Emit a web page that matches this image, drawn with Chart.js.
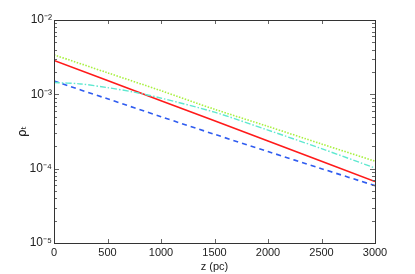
<!DOCTYPE html>
<html>
<head>
<meta charset="utf-8">
<script src="https://cdn.jsdelivr.net/npm/chart.js@4.4.0/dist/chart.umd.min.js"></script>
<style>
  html, body { margin: 0; padding: 0; background: #fff; }
  #wrap { width: 415px; height: 274px; }
</style>
</head>
<body>
<div id="wrap"><canvas id="rhoChart" width="415" height="274"></canvas></div>
<script>
const zSteps = [0, 500, 1000, 1500, 2000, 2500, 3000];
const redVals = [2.86e-3, 1.53e-3, 8.2e-4, 4.4e-4, 2.35e-4, 1.26e-4, 6.7e-5];
const greenVals = [3.4e-3, 1.95e-3, 1.12e-3, 6.3e-4, 3.7e-4, 2.15e-4, 1.26e-4];
const blueVals = [1.51e-3, 8.7e-4, 5.0e-4, 2.9e-4, 1.7e-4, 1.0e-4, 5.9e-5];
const cyanZ = [0, 250, 500, 750, 1000, 1500, 2000, 2500, 3000];
const cyanVals = [1.44e-3, 1.38e-3, 1.23e-3, 1.07e-3, 8.9e-4, 5.75e-4, 3.3e-4, 1.86e-4, 1.02e-4];
const xTicks = [0, 500, 1000, 1500, 2000, 2500, 3000];
const yTicks = [1e-5, 1e-4, 1e-3, 1e-2];
const yTickLabels = ['10⁻⁵', '10⁻⁴', '10⁻³', '10⁻²'];

const pts = (xs, ys) => xs.map((x, i) => ({ x: x, y: ys[i] }));
const ctx = document.getElementById('rhoChart').getContext('2d');

// frame + inward ticks like the matlab box
const framePlugin = {
  id: 'frame',
  afterDraw(chart) {
    const { ctx, chartArea: a, scales } = chart;
    const xs = scales.x, ys = scales.y;
    ctx.save();
    ctx.strokeStyle = '#666';
    ctx.lineWidth = 1;
    ctx.beginPath();
    xTicks.forEach(v => {
      const px = Math.round(xs.getPixelForValue(v)) + 0.5;
      ctx.moveTo(px, a.bottom); ctx.lineTo(px, a.bottom - 4);
      ctx.moveTo(px, a.top); ctx.lineTo(px, a.top + 4);
    });
    for (let d = -5; d < -2; d++) {
      for (let m = 1; m <= 9; m++) {
        const v = m * Math.pow(10, d);
        const py = Math.round(ys.getPixelForValue(v)) + 0.5;
        const len = m === 1 ? 5 : 3;
        ctx.moveTo(a.left, py); ctx.lineTo(a.left + len, py);
        ctx.moveTo(a.right, py); ctx.lineTo(a.right - len, py);
      }
    }
    ctx.stroke();
    ctx.strokeStyle = '#333';
    ctx.strokeRect(Math.round(a.left) + 0.5, Math.round(a.top) + 0.5,
      Math.round(a.right - a.left), Math.round(a.bottom - a.top));
    ctx.restore();
  }
};

new Chart(ctx, {
  type: 'line',
  data: {
    datasets: [
      {
        label: 'green',
        data: pts(zSteps, greenVals),
        borderColor: '#a8f040',
        borderWidth: 1.6,
        borderDash: [1.5, 1.5],
        pointRadius: 0,
        tension: 0.3
      },
      {
        label: 'cyan',
        data: pts(cyanZ, cyanVals),
        borderColor: '#5fe8d0',
        borderWidth: 1.4,
        borderDash: [6, 2, 1.5, 2],
        pointRadius: 0,
        tension: 0.3
      },
      {
        label: 'red',
        data: pts(zSteps, redVals),
        borderColor: '#ff1a1a',
        borderWidth: 1.6,
        pointRadius: 0,
        tension: 0
      },
      {
        label: 'blue',
        data: pts(zSteps, blueVals),
        borderColor: '#2f5cf0',
        borderWidth: 1.6,
        borderDash: [5, 4],
        pointRadius: 0,
        tension: 0.3
      }
    ]
  },
  options: {
    responsive: false,
    animation: false,
    layout: { padding: { top: 20, right: 40, left: 0, bottom: 0 } },
    plugins: { legend: { display: false }, tooltip: { enabled: false } },
    scales: {
      x: {
        type: 'linear',
        min: 0,
        max: 3000,
        afterBuildTicks: s => { s.ticks = xTicks.map(v => ({ value: v })); },
        afterFit: s => { s.height = 31; },
        grid: { display: false, drawTicks: false },
        border: { display: false },
        ticks: {
          color: '#222',
          padding: 3,
          maxRotation: 0,
          font: { family: 'Liberation Sans', size: 11 },
          callback: v => String(v)
        },
        title: {
          display: true,
          text: 'z (pc)',
          color: '#222',
          padding: { top: -2, bottom: 0 },
          font: { family: 'Liberation Sans', size: 11 }
        }
      },
      y: {
        type: 'logarithmic',
        min: 1e-5,
        max: 1e-2,
        afterBuildTicks: s => { s.ticks = yTicks.map(v => ({ value: v })); },
        afterFit: s => { s.width = 54; },
        grid: { display: false, drawTicks: false },
        border: { display: false },
        ticks: {
          color: '#222',
          padding: 2,
          font: { family: 'Liberation Sans', size: 12 },
          callback: (v) => yTickLabels[yTicks.indexOf(v)] || ''
        },
        title: {
          display: true,
          text: 'ρₜ',
          color: '#222',
          padding: { top: 16, bottom: 0 },
          font: { family: 'DejaVu Sans', size: 12 }
        }
      }
    }
  },
  plugins: [framePlugin]
});
</script>
</body>
</html>
